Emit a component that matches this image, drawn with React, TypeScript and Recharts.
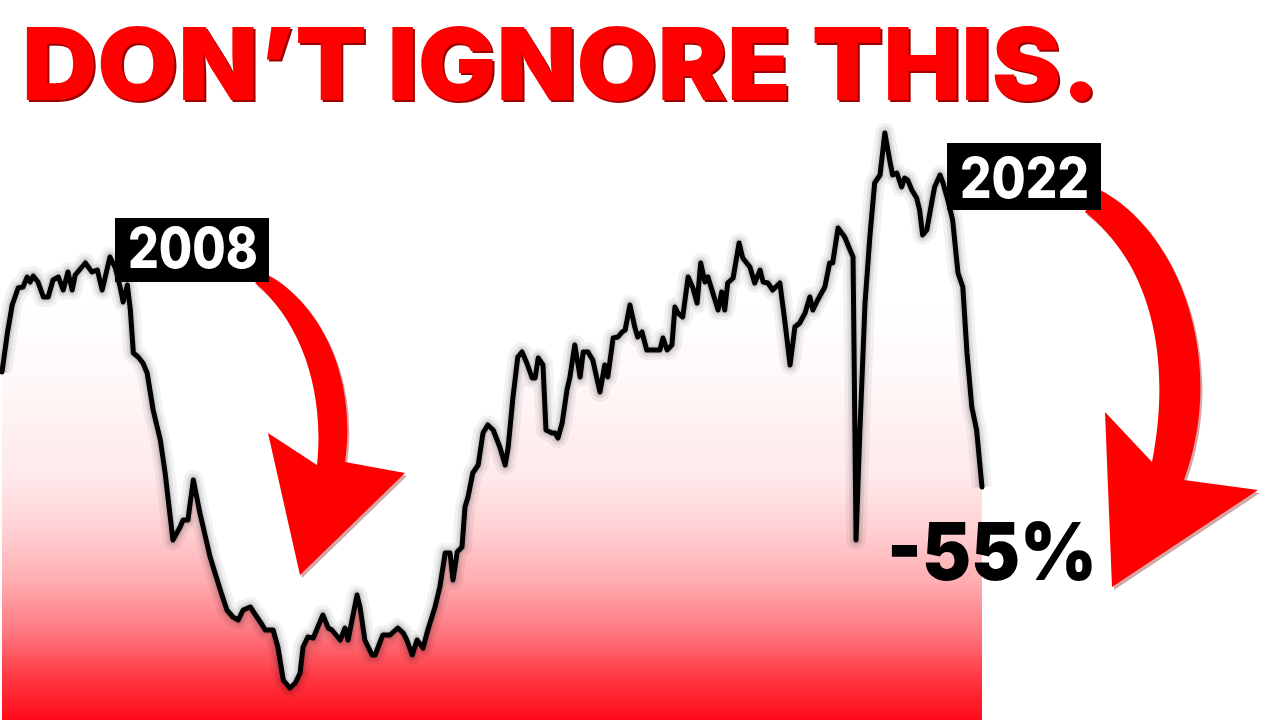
import { Area, ComposedChart, Line, XAxis, YAxis } from "recharts";

// decimal year of each sample
const years = [
  2006.03, 2006.12, 2006.2, 2006.3, 2006.38, 2006.45, 2006.5, 2006.55, 2006.63, 2006.72,
  2006.8, 2006.88, 2006.97, 2007.05, 2007.13, 2007.2, 2007.25, 2007.42, 2007.53, 2007.62,
  2007.7, 2007.83, 2007.92, 2008.0, 2008.05, 2008.12, 2008.17, 2008.22, 2008.3, 2008.38,
  2008.45, 2008.55, 2008.67, 2008.75, 2008.88, 2009.0, 2009.05, 2009.13, 2009.22, 2009.33,
  2009.5, 2009.67, 2009.78, 2009.88, 2009.97, 2010.05, 2010.17, 2010.28, 2010.37, 2010.42,
  2010.55, 2010.63, 2010.72, 2010.83, 2010.92, 2011.0, 2011.05, 2011.13, 2011.22, 2011.38,
  2011.47, 2011.53, 2011.67, 2011.75, 2011.8, 2011.95, 2012.0, 2012.08, 2012.2, 2012.25,
  2012.38, 2012.5, 2012.63, 2012.72, 2012.78, 2012.87, 2012.95, 2013.05, 2013.13, 2013.25,
  2013.33, 2013.42, 2013.5, 2013.55, 2013.62, 2013.7, 2013.75, 2013.8, 2013.88, 2013.97,
  2014.05, 2014.13, 2014.22, 2014.33, 2014.42, 2014.47, 2014.55, 2014.63, 2014.7, 2014.78,
  2014.87, 2014.92, 2014.97, 2015.05, 2015.1, 2015.2, 2015.25, 2015.3, 2015.37, 2015.45,
  2015.5, 2015.58, 2015.67, 2015.72, 2015.8, 2015.88, 2016.0, 2016.08, 2016.13, 2016.22,
  2016.3, 2016.37, 2016.42, 2016.5, 2016.58, 2016.63, 2016.7, 2016.78, 2017.0, 2017.05,
  2017.12, 2017.2, 2017.25, 2017.3, 2017.38, 2017.47, 2017.55, 2017.62, 2017.68, 2017.75,
  2017.8, 2017.97, 2018.03, 2018.08, 2018.13, 2018.22, 2018.32, 2018.38, 2018.5, 2018.58,
  2018.67, 2018.72, 2018.8, 2018.88, 2019.0, 2019.08, 2019.17, 2019.25, 2019.33, 2019.42,
  2019.5, 2019.55, 2019.63, 2019.75, 2019.83, 2019.88, 2019.97, 2020.08, 2020.17, 2020.22,
  2020.27, 2020.33, 2020.42, 2020.5, 2020.58, 2020.67, 2020.75, 2020.83, 2020.88, 2020.95,
  2021.03, 2021.08, 2021.13, 2021.2, 2021.28, 2021.33, 2021.38, 2021.45, 2021.53, 2021.58,
  2021.67, 2021.72, 2021.8, 2021.88, 2021.97, 2022.05, 2022.12, 2022.2, 2022.28, 2022.37,
];

const price = [
  34.8, 38.7, 41.5, 43.2, 43.3, 44.3, 43.8, 44.4, 43.8, 42.3,
  42.3, 44.0, 44.3, 43.0, 44.8, 43.0, 44.5, 45.7, 44.8, 45.0,
  43.0, 46.3, 45.2, 43.3, 41.8, 43.5, 41.0, 36.7, 36.3, 35.7,
  34.7, 31.0, 28.0, 24.7, 18.0, 19.3, 20.0, 20.0, 24.0, 20.7,
  16.3, 13.0, 11.0, 10.3, 10.0, 11.0, 11.3, 10.3, 9.5, 9.0,
  9.0, 7.3, 4.0, 3.2, 3.7, 4.7, 7.3, 8.3, 8.2, 10.5,
  9.2, 9.0, 8.0, 9.2, 8.0, 12.5, 11.3, 8.0, 6.5, 6.5,
  8.5, 8.5, 9.2, 8.7, 8.0, 6.5, 8.0, 7.2, 9.0, 11.3,
  13.3, 16.7, 16.7, 14.0, 16.8, 17.3, 21.3, 22.3, 24.7, 25.5,
  28.7, 29.5, 29.0, 27.3, 25.5, 27.3, 32.3, 36.3, 36.8, 35.7,
  34.2, 34.2, 36.2, 35.5, 29.0, 28.7, 28.7, 28.2, 29.7, 33.0,
  34.3, 37.5, 34.3, 36.8, 36.8, 36.0, 32.8, 35.5, 34.3, 38.2,
  38.3, 38.8, 39.0, 41.5, 39.3, 38.3, 38.8, 37.0, 37.0, 38.2,
  37.0, 37.5, 41.3, 40.7, 40.3, 44.3, 43.2, 41.7, 45.7, 43.8,
  44.3, 41.0, 42.8, 41.0, 43.7, 44.2, 47.7, 46.2, 45.3, 43.7,
  45.0, 43.8, 43.7, 43.0, 43.7, 40.0, 35.5, 39.3, 39.7, 40.7,
  42.3, 41.0, 42.0, 43.3, 45.7, 45.7, 49.2, 48.3, 47.0, 46.3,
  18.0, 28.3, 41.7, 48.3, 53.7, 54.5, 58.7, 56.0, 54.5, 54.7,
  53.3, 54.2, 54.0, 53.0, 52.2, 51.0, 48.5, 49.0, 51.7, 53.3,
  54.5, 53.7, 52.0, 50.0, 44.7, 43.3, 36.7, 31.3, 29.0, 23.3,
];

const title = "DON\u2019T IGNORE THIS.";
const crashLabels = ["2008", "2022"];
const dropLabel = "-55%";

const data = years.map((t, i) => ({ t, v: price[i] }));

const FONT = "Inter, 'Noto Sans', Roboto, sans-serif";

export default function App() {
  return (
    <div style={{ position: "fixed", left: 0, top: 0, width: 1280, height: 720, background: "#fff", overflow: "hidden" }}>
      <ComposedChart width={1280} height={720} data={data} margin={{ top: 0, right: 298, bottom: 0, left: 2 }}>
        <defs>
          <linearGradient id="redFade" x1="0" y1="0" x2="0" y2="720" gradientUnits="userSpaceOnUse">
            <stop offset={300 / 720} stopColor="#ffffff" />
            <stop offset={380 / 720} stopColor="#fff8f8" />
            <stop offset={480 / 720} stopColor="#ffe8ea" />
            <stop offset={530 / 720} stopColor="#ffd0d3" />
            <stop offset={580 / 720} stopColor="#ffaeb2" />
            <stop offset={630 / 720} stopColor="#ff7a82" />
            <stop offset={680 / 720} stopColor="#ff3540" />
            <stop offset={1} stopColor="#ff0a18" />
          </linearGradient>
        </defs>
        <XAxis dataKey="t" type="number" domain={["dataMin", "dataMax"]} hide />
        <YAxis domain={[0, 72]} hide />
        <Area dataKey="v" type="linear" stroke="none" fill="url(#redFade)" fillOpacity={1} isAnimationActive={false} />
        {/* soft grey halo behind the price line */}
        <Line dataKey="v" type="linear" stroke="#000" strokeOpacity={0.05} strokeWidth={20}
          strokeLinejoin="round" dot={false} activeDot={false} isAnimationActive={false} />
        <Line dataKey="v" type="linear" stroke="#000" strokeOpacity={0.07} strokeWidth={13}
          strokeLinejoin="round" dot={false} activeDot={false} isAnimationActive={false} />
        <Line dataKey="v" type="linear" stroke="#000" strokeOpacity={0.1} strokeWidth={8}
          strokeLinejoin="round" dot={false} activeDot={false} isAnimationActive={false} />
        <Line
          dataKey="v"
          type="linear"
          stroke="#000"
          strokeWidth={5}
          strokeLinejoin="round"
          strokeLinecap="round"
          dot={false}
          activeDot={false}
          isAnimationActive={false}
        />
      </ComposedChart>

      <svg width={1280} height={720} style={{ position: "absolute", left: 0, top: 0, pointerEvents: "none" }}>
        {/* title with a dark red offset shadow */}
        <text x={24} y={102} fontFamily={FONT} fontWeight={900} fontSize={100} fill="#9a0000"
          textLength={1078} lengthAdjust="spacingAndGlyphs">
          {title}
        </text>
        <text x={22} y={100} fontFamily={FONT} fontWeight={900} fontSize={100} fill="#ff0000"
          textLength={1078} lengthAdjust="spacingAndGlyphs">
          {title}
        </text>

        <path d="M 270 278 C 317 303, 360 373, 347 465 L 407 476 L 302 578 L 270 436 L 319 468 C 327 393, 302 323, 257 286 Z"
          fill="#8a0000" opacity={0.35} />
        <path d="M 268 275 C 315 300, 358 370, 345 462 L 405 473 L 300 575 L 268 433 L 317 465 C 325 390, 300 320, 255 283 Z"
          fill="#ff0000" />
        <path d="M 1102 193 C 1180 233, 1230 363, 1186 483 L 1260 493 L 1114 590 L 1107 415 L 1154 465 C 1174 363, 1154 268, 1087 215 Z"
          fill="#8a0000" opacity={0.35} />
        <path d="M 1100 190 C 1178 230, 1228 360, 1184 480 L 1258 490 L 1112 587 L 1105 412 L 1152 462 C 1172 360, 1152 265, 1085 212 Z"
          fill="#ff0000" />

        <rect x={115} y={218} width={154} height={64} fill="#000" />
        <text x={128} y={268} fontFamily={FONT} fontWeight={800} fontSize={56} fill="#fff"
          textLength={130} lengthAdjust="spacingAndGlyphs">
          {crashLabels[0]}
        </text>

        <rect x={947} y={143} width={154} height={67} fill="#000" />
        <text x={960} y={198} fontFamily={FONT} fontWeight={800} fontSize={56} fill="#fff"
          textLength={129} lengthAdjust="spacingAndGlyphs">
          {crashLabels[1]}
        </text>

        <text x={887} y={580} fontFamily={FONT} fontWeight={900} fontSize={80} fill="#000"
          textLength={210} lengthAdjust="spacingAndGlyphs">
          {dropLabel}
        </text>
      </svg>
    </div>
  );
}
